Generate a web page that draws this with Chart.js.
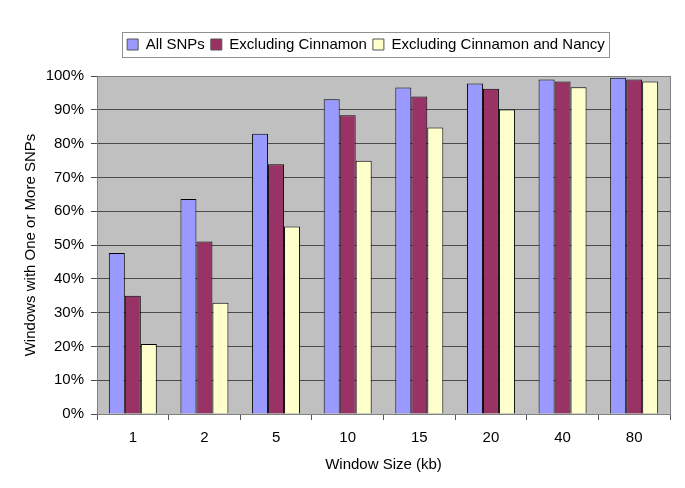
<!DOCTYPE html>
<html>
<head>
<meta charset="utf-8">
<script src="https://cdn.jsdelivr.net/npm/chart.js"></script>
<style>
html,body{margin:0;padding:0;background:#fff;}
#wrap{width:685px;height:488px;}
</style>
</head>
<body>
<div id="wrap"><canvas id="c" width="685" height="488"></canvas></div>
<script>
const categories = ["1","2","5","10","15","20","40","80"];
const allSNPs = [47.6, 63.6, 82.9, 93.1, 96.6, 97.8, 99.0, 99.5];
const exclCinnamon = [35.0, 51.0, 73.9, 88.4, 93.9, 96.2, 98.4, 99.0];
const exclCinnamonNancy = [20.7, 32.9, 55.5, 74.9, 84.8, 90.1, 96.7, 98.4];
const yTicks = [0,10,20,30,40,50,60,70,80,90,100];

const FONT = "'Liberation Sans', Arial, sans-serif";

const plotBg = {
  id: 'plotBg',
  afterLayout(chart) {
    const lg = chart.legend;
    if (lg) {
      lg.left += 31; lg.right += 31;
      lg.top -= 14; lg.bottom -= 14;
    }
  },
  beforeDraw(chart) {
    const {ctx, chartArea: a} = chart;
    ctx.save();
    ctx.fillStyle = '#c0c0c0';
    ctx.fillRect(a.left, a.top, a.right - a.left, a.bottom - a.top);
    ctx.restore();
  },
  afterDraw(chart) {
    const {ctx, chartArea: a} = chart;
    ctx.save();
    ctx.strokeStyle = '#808080';
    ctx.lineWidth = 1;
    ctx.strokeRect(Math.round(a.left) + 0.5, Math.round(a.top) + 0.5, Math.round(a.right - a.left), Math.round(a.bottom - a.top));
    const lg = chart.legend;
    if (lg && lg.legendHitBoxes && lg.legendHitBoxes.length) {
      let l = Infinity, t = Infinity, r = -Infinity, b = -Infinity;
      lg.legendHitBoxes.forEach(h => {
        l = Math.min(l, h.left); t = Math.min(t, h.top);
        r = Math.max(r, h.left + h.width); b = Math.max(b, h.top + h.height);
      });
      ctx.strokeStyle = '#909090';
      ctx.strokeRect(Math.round(l - 5) + 0.5, Math.round(t - 5) + 0.5, Math.round(r - l + 9), Math.round(b - t + 10));
    }
    ctx.restore();
  }
};

new Chart(document.getElementById('c'), {
  type: 'bar',
  data: {
    labels: categories,
    datasets: [
      {label: 'All SNPs', data: allSNPs, backgroundColor: '#9999ff', borderColor: '#000000', borderWidth: 1},
      {label: 'Excluding Cinnamon', data: exclCinnamon, backgroundColor: '#993366', borderColor: '#000000', borderWidth: 1},
      {label: 'Excluding Cinnamon and Nancy', data: exclCinnamonNancy, backgroundColor: '#ffffcc', borderColor: '#000000', borderWidth: 1}
    ]
  },
  options: {
    responsive: false,
    animation: false,
    devicePixelRatio: 1,
    layout: {padding: {left: 0, right: 15, top: 45, bottom: 0}},
    datasets: {bar: {barPercentage: 1.0, categoryPercentage: 0.67}},
    plugins: {
      legend: {
        position: 'top',
        labels: {
          font: {family: FONT, size: 15},
          color: '#000',
          boxWidth: 11,
          boxHeight: 11,
          padding: 6,
          generateLabels(chart) {
            return chart.data.datasets.map((d, i) => ({
              text: d.label, fillStyle: d.backgroundColor, strokeStyle: '#555', lineWidth: 1,
              datasetIndex: i, hidden: false, fontColor: '#000'
            }));
          }
        }
      },
      tooltip: {enabled: false}
    },
    scales: {
      x: {
        grid: {offset: true, drawOnChartArea: false, color: '#555', tickLength: 6},
        border: {color: '#555'},
        ticks: {font: {family: FONT, size: 15}, color: '#000', padding: 9},
        title: {display: true, text: 'Window Size (kb)', font: {family: FONT, size: 15}, color: '#000', padding: {top: 0, bottom: 14}},
        afterFit(s) { s.height = 74; }
      },
      y: {
        min: 0, max: 100,
        afterBuildTicks(s) { s.ticks = yTicks.map(v => ({value: v})); },
        grid: {color: '#4a4a4a', tickLength: 6},
        border: {color: '#555'},
        ticks: {font: {family: FONT, size: 15}, color: '#000', padding: 7, callback: v => v + '%'},
        title: {display: true, text: 'Windows with One or More SNPs', font: {family: FONT, size: 15}, color: '#000', padding: {top: 22, bottom: 0}},
        afterFit(s) { s.width = 97; }
      }
    }
  },
  plugins: [plotBg]
});
</script>
</body>
</html>
